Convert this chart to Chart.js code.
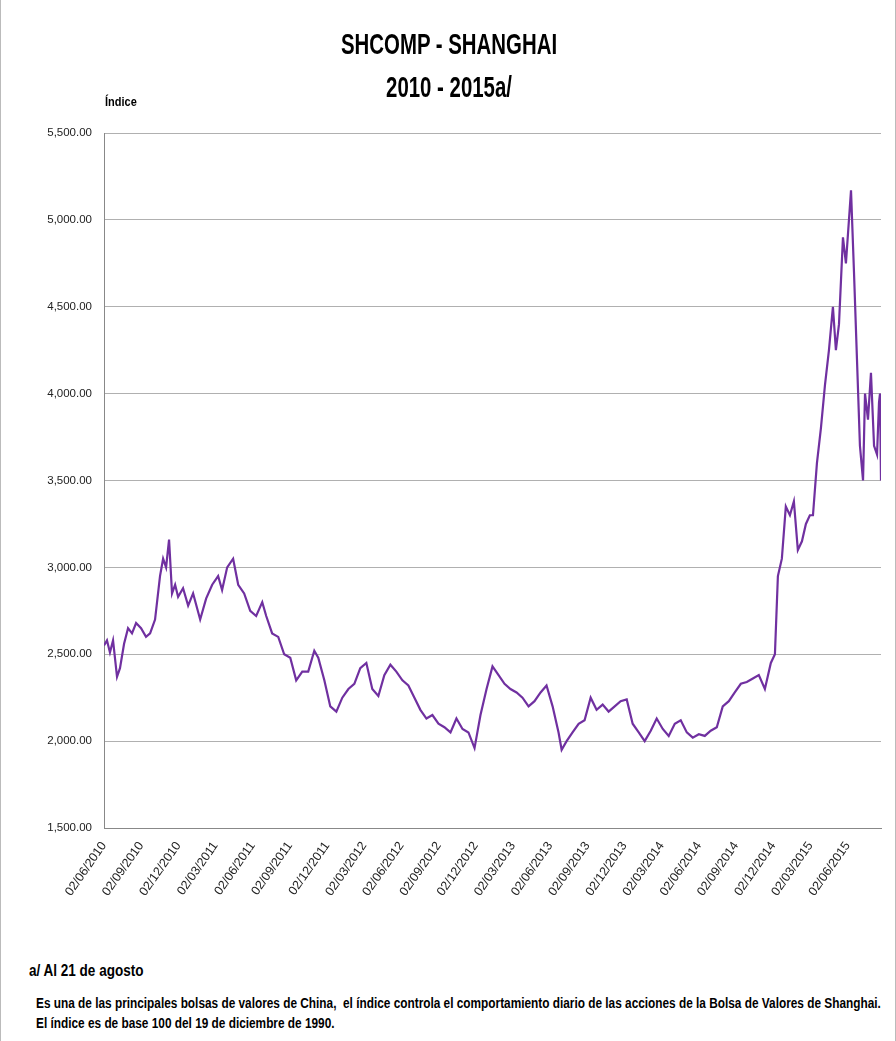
<!DOCTYPE html>
<html>
<head>
<meta charset="utf-8">
<script src="https://cdn.jsdelivr.net/npm/chart.js@4/dist/chart.umd.min.js"></script>
<style>
  body { margin: 0; background: #fff; font-family: "Liberation Sans", sans-serif; }
  #page { position: relative; width: 896px; height: 1041px; border-left: 1px solid #bbb; border-right: 1px solid #bbb; box-sizing: border-box; overflow: hidden; }
  #wrap { position: absolute; left: 0; top: 0; width: 896px; height: 950px; }
  .title { position: absolute; left: 0; width: 896px; text-align: center; font-weight: bold; font-size: 30px; color: #000; transform: scaleX(0.68); }
  .note { position: absolute; font-weight: bold; font-size: 14px; color: #000; white-space: nowrap; transform-origin: left top; transform: scaleX(0.845); }
</style>
</head>
<body>
<div id="page">
  <div id="wrap"><canvas id="myChart"></canvas></div>
  <div class="title" style="top:27px">SHCOMP - SHANGHAI</div>
  <div class="title" style="top:70px">2010 - 2015a/</div>
  <div class="note" style="left:104px;top:94px;font-size:13px">Índice</div>
  <div class="note" style="left:28px;top:962px;font-size:16px">a/ Al 21 de agosto</div>
  <div class="note" style="left:35px;top:995px">Es una de las principales bolsas de valores de China,&nbsp; el índice controla el comportamiento diario de las acciones de la Bolsa de Valores de Shanghai.</div>
  <div class="note" style="left:35px;top:1015px">El índice es de base 100 del 19 de diciembre de 1990.</div>
</div>
<script>
// [months after 02/06/2010, index value]
const series = [
  [0, 2550], [0.24, 2580], [0.48, 2510], [0.73, 2580], [1.05, 2370], [1.29, 2420], [1.62, 2560], [1.94, 2650],
  [2.26, 2620], [2.59, 2680], [2.99, 2650], [3.39, 2600], [3.72, 2620], [4.12, 2700], [4.52, 2950], [4.77, 3050],
  [5.01, 3000], [5.25, 3160], [5.49, 2850], [5.74, 2900], [5.98, 2830], [6.38, 2880], [6.79, 2780], [7.19, 2850],
  [7.76, 2700], [8.24, 2820], [8.73, 2900], [9.21, 2950], [9.53, 2870], [9.94, 3000], [10.42, 3050], [10.83, 2900],
  [11.31, 2850], [11.8, 2750], [12.28, 2720], [12.77, 2800], [13.09, 2720], [13.57, 2620], [14.06, 2600], [14.54, 2500],
  [15.03, 2480], [15.51, 2350], [16.0, 2400], [16.48, 2400], [16.97, 2520], [17.29, 2480], [17.78, 2350], [18.26, 2200],
  [18.75, 2170], [19.23, 2250], [19.72, 2300], [20.2, 2330], [20.68, 2420], [21.17, 2450], [21.65, 2300], [22.14, 2260],
  [22.62, 2380], [23.11, 2440], [23.59, 2400], [24.08, 2350], [24.56, 2320], [25.05, 2250], [25.53, 2180], [26.02, 2130],
  [26.5, 2150], [26.99, 2100], [27.47, 2080], [27.96, 2050], [28.44, 2130], [28.93, 2070], [29.41, 2050], [29.9, 1960],
  [30.38, 2150], [30.87, 2300], [31.35, 2430], [31.84, 2380], [32.32, 2330], [32.8, 2300], [33.29, 2280], [33.77, 2250],
  [34.26, 2200], [34.74, 2230], [35.23, 2280], [35.71, 2320], [36.2, 2200], [36.68, 2050], [36.93, 1950], [37.33, 2000],
  [37.81, 2050], [38.3, 2100], [38.78, 2120], [39.27, 2250], [39.75, 2180], [40.24, 2210], [40.72, 2170], [41.21, 2200],
  [41.69, 2230], [42.18, 2240], [42.66, 2100], [43.15, 2050], [43.63, 2000], [44.12, 2060], [44.6, 2130], [45.09, 2070],
  [45.57, 2030], [46.06, 2100], [46.54, 2120], [47.03, 2050], [47.51, 2020], [48.0, 2040], [48.48, 2030], [48.96, 2060],
  [49.45, 2080], [49.93, 2200], [50.42, 2230], [50.9, 2280], [51.39, 2330], [51.87, 2340], [52.36, 2360], [52.84, 2380],
  [53.33, 2300], [53.81, 2450], [54.14, 2500], [54.38, 2950], [54.7, 3050], [55.02, 3350], [55.35, 3300], [55.67, 3380],
  [55.99, 3100], [56.32, 3150], [56.64, 3250], [56.96, 3300], [57.21, 3300], [57.53, 3600], [57.85, 3800], [58.18, 4050],
  [58.5, 4250], [58.82, 4500], [59.06, 4250], [59.31, 4400], [59.63, 4900], [59.87, 4750], [60.28, 5170], [60.52, 4700],
  [60.76, 4200], [61.0, 3700], [61.25, 3500], [61.41, 4000], [61.65, 3850], [61.89, 4120], [62.14, 3700], [62.38, 3650],
  [62.54, 3950], [62.62, 4000], [62.7, 3500]
];

// tick labels, one every three months
const tickLabels = ["02/06/2010", "02/09/2010", "02/12/2010", "02/03/2011", "02/06/2011", "02/09/2011", "02/12/2011", "02/03/2012", "02/06/2012", "02/09/2012", "02/12/2012", "02/03/2013", "02/06/2013", "02/09/2013", "02/12/2013", "02/03/2014", "02/06/2014", "02/09/2014", "02/12/2014", "02/03/2015", "02/06/2015"];

const points = series.map(p => ({ x: p[0], y: p[1] }));
const font = "'Liberation Sans', sans-serif";

new Chart(document.getElementById("myChart"), {
  type: "line",
  data: {
    datasets: [{
      data: points,
      borderColor: "#7030A0",
      borderWidth: 2.2,
      pointRadius: 0,
      tension: 0,
      fill: false
    }]
  },
  options: {
    responsive: true,
    maintainAspectRatio: false,
    animation: false,
    layout: { padding: { top: 133, right: 16, left: 0, bottom: 0 } },
    plugins: { legend: { display: false }, tooltip: { enabled: false } },
    scales: {
      x: {
        type: "linear",
        min: 0,
        max: 62.7,
        afterBuildTicks: axis => { axis.ticks = tickLabels.map((t, i) => ({ value: i * 3 })); },
        afterFit: axis => { axis.height = 122; },
        grid: { display: false },
        border: { color: "#888" },
        ticks: {
          autoSkip: false,
          maxRotation: 55,
          minRotation: 55,
          color: "#222",
          font: { family: font, size: 12.5 },
          callback: (v, i) => tickLabels[i]
        }
      },
      y: {
        min: 1500,
        max: 5500,
        afterFit: axis => { axis.width = 103; },
        grid: { color: "#b0b0b0", drawTicks: false },
        border: { color: "#888" },
        ticks: {
          stepSize: 500,
          padding: 12,
          color: "#222",
          font: { family: font, size: 11.5 },
          callback: v => v.toLocaleString("en-US", { minimumFractionDigits: 2 })
        }
      }
    }
  }
});
</script>
</body>
</html>
